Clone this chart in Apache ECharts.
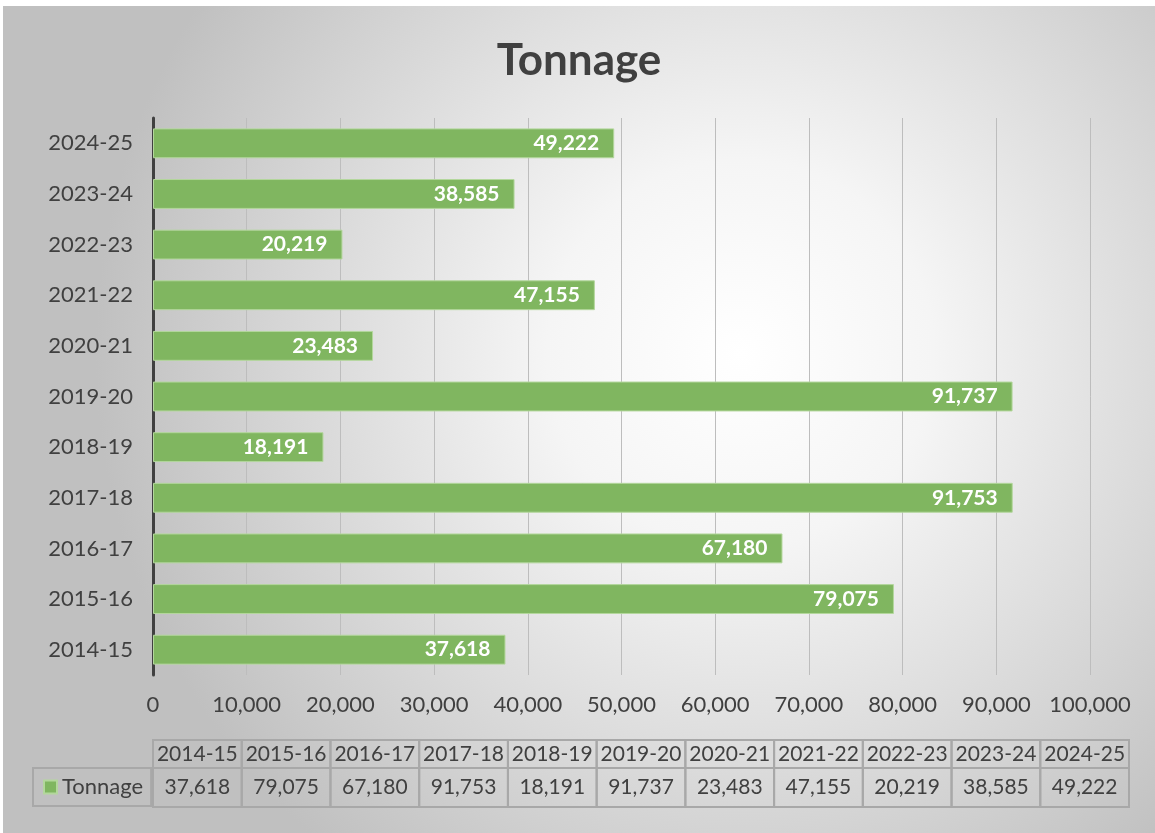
<!DOCTYPE html>
<html>
<head>
<meta charset="utf-8">
<script src="https://cdn.jsdelivr.net/npm/echarts@6/dist/echarts.min.js"></script>
<style>
  html, body { margin: 0; padding: 0; background: #fff; }
  #chart { position: absolute; left: 3px; top: 6px; width: 1152px; height: 827px; }
</style>
</head>
<body>
<div id="chart"></div>
<script>
// data
const years = ['2014-15', '2015-16', '2016-17', '2017-18', '2018-19', '2019-20', '2020-21', '2021-22', '2022-23', '2023-24', '2024-25']
const tonnage = [37618, 79075, 67180, 91753, 18191, 91737, 23483, 47155, 20219, 38585, 49222]
const seriesName = 'Tonnage'

const fmt = v => Number(v).toLocaleString('en-US')
const textColor = '#404040'
const cellLine = '#a8a8a8'

const chart = echarts.init(document.getElementById('chart'))

function cellRenderer (textOf) {
  return function (params, api) {
    const c = api.coord([api.value(0), 0])
    const w = api.size([1, 0])[0]
    const cs = params.coordSys
    return {
      type: 'rect',
      shape: { x: c[0] - w / 2, y: cs.y, width: w, height: cs.height },
      style: { fill: 'rgba(0,0,0,0)', stroke: cellLine, lineWidth: 2 },
      textContent: {
        style: { text: textOf(api), fill: textColor, font: '21px Lato' }
      },
      textConfig: { position: 'inside' }
    }
  }
}

const option = {
  backgroundColor: {
    type: 'radial', x: 0.64, y: 0.42, r: 0.78,
    colorStops: [
      { offset: 0, color: '#ffffff' },
      { offset: 0.3, color: '#f5f5f5' },
      { offset: 1, color: '#c0c0c0' }
    ]
  },
  textStyle: { fontFamily: 'Lato' },
  title: {
    text: 'Tonnage',
    left: 'center',
    top: 28,
    textStyle: { fontSize: 44, fontWeight: 'bold', color: textColor, fontFamily: 'Lato' }
  },
  legend: {
    data: [seriesName],
    left: 30,
    top: 762,
    icon: 'rect',
    itemWidth: 13,
    itemHeight: 13,
    padding: [8, 8, 8, 10],
    borderColor: cellLine,
    borderWidth: 2,
    selectedMode: false,
    textStyle: { fontSize: 22, color: textColor, lineHeight: 22, fontFamily: 'Lato' }
  },
  grid: [
    { left: 150, right: 65, top: 112, bottom: 158 },
    { left: 150, right: 26, top: 734, height: 28 },
    { left: 150, right: 26, top: 762, height: 39 }
  ],
  xAxis: [
    {
      gridIndex: 0,
      type: 'value',
      min: 0,
      max: 100000,
      interval: 10000,
      axisLine: { show: false },
      axisTick: { show: false },
      axisLabel: { formatter: fmt, fontSize: 22, color: textColor, margin: 19 },
      splitLine: { lineStyle: { color: '#bdbdbd', width: 1 } }
    },
    { gridIndex: 1, type: 'category', data: years, show: false },
    { gridIndex: 2, type: 'category', data: years, show: false }
  ],
  yAxis: [
    {
      gridIndex: 0,
      type: 'category',
      data: years,
      axisLine: { show: true, lineStyle: { color: '#404040', width: 3 } },
      axisTick: { show: false },
      axisLabel: { fontSize: 22, color: textColor, margin: 20 }
    },
    { gridIndex: 1, type: 'category', data: ['h'], show: false },
    { gridIndex: 2, type: 'category', data: ['v'], show: false }
  ],
  series: [
    {
      name: seriesName,
      type: 'bar',
      xAxisIndex: 0,
      yAxisIndex: 0,
      data: tonnage,
      barCategoryGap: '41%',
      itemStyle: { color: '#80b660', borderColor: '#b3d79c', borderWidth: 1 },
      label: {
        show: true,
        position: 'insideRight',
        distance: 15,
        formatter: p => fmt(p.value),
        color: '#fff',
        fontWeight: 'bold',
        fontSize: 21,
        fontFamily: 'Lato'
      },
      z: 3
    },
    {
      type: 'custom',
      xAxisIndex: 1,
      yAxisIndex: 1,
      data: years.map((y, i) => [i, 0]),
      renderItem: cellRenderer(api => years[api.value(0)]),
      silent: true
    },
    {
      type: 'custom',
      xAxisIndex: 2,
      yAxisIndex: 2,
      data: tonnage.map((v, i) => [i, 0, v]),
      renderItem: cellRenderer(api => fmt(api.value(2))),
      silent: true
    }
  ]
}

chart.setOption(option)
</script>
</body>
</html>
